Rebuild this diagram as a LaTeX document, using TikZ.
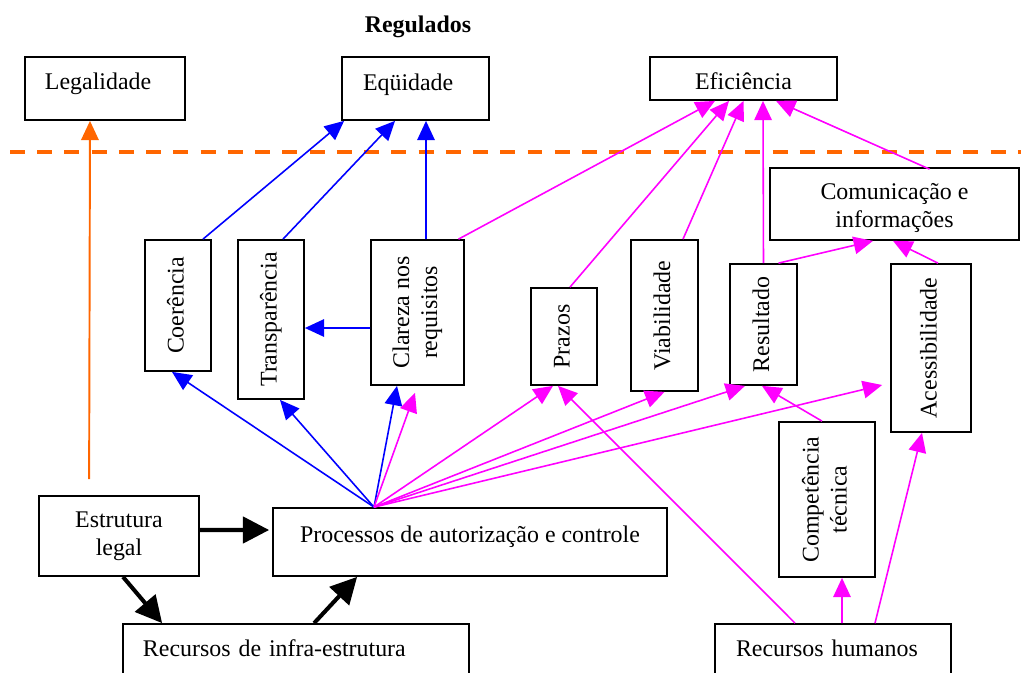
\documentclass[tikz,border=0pt]{standalone}
\usepackage{fontspec}
\setmainfont{Liberation Serif}
\usepackage{graphicx}
\usetikzlibrary{arrows.meta}
\definecolor{orng}{RGB}{255,102,0}
\definecolor{mgnt}{RGB}{255,0,255}
\definecolor{blu}{RGB}{0,0,255}
\newcommand{\vlabel}[1]{\rotatebox{90}{\begin{tabular}{@{}c@{}}#1\end{tabular}}}

\begin{document}
\begin{tikzpicture}[x=0.2cm,y=0.2cm,
  box/.style={draw, line width=1pt},
  bl/.style={draw=blu, line width=0.9pt, -{Triangle[length=11pt,width=10pt]}},
  mg/.style={draw=mgnt, line width=0.9pt, -{Triangle[length=11pt,width=10pt]}},
  og/.style={draw=orng, line width=1.1pt, -{Triangle[length=11pt,width=10pt]}},
  bk/.style={draw=black, line width=2.3pt, -{Triangle[length=15pt,width=15pt]}}]
  \tikzstyle{every node}+=[inner sep=0pt, font=\fontsize{13.6}{16}\selectfont]
  \useasboundingbox (0,0) rectangle (102.1,-67.3);
  \node[font=\fontsize{13.6}{16}\selectfont\bfseries] (reg) at (41.8,-2.7) {Regulados};
  \draw[orng, line width=2.2pt, dash pattern=on 8.5pt off 7pt] (1,-15.2) -- (102.1,-15.2);
  % top row
  \node[box, minimum width=3.2cm, minimum height=1.26cm, text width=2.4cm, align=left,
    text height=9.5pt, text depth=7.8pt] (legal) at (10.5,-8.85) {Legalidade};
  \node[box, minimum width=2.94cm, minimum height=1.26cm, text width=2.1cm, align=left,
    text height=9.5pt, text depth=6.7pt] (equi) at (41.55,-8.85) {Eqüidade};
  \node[box, minimum width=3.74cm, minimum height=0.86cm,
    text height=16pt, text depth=3pt] (efic) at (74.35,-7.85) {Eficiência};
  % middle row
  \node[box, minimum width=1.32cm, minimum height=2.62cm] (coer) at (17.8,-30.55) {\vlabel{Coerência}};
  \node[box, minimum width=1.32cm, minimum height=3.18cm] (transp) at (27.1,-31.95) {\vlabel{Transparência}};
  \node[box, minimum width=1.86cm, minimum height=2.9cm] (clar) at (41.75,-31.25) {\vlabel{Clareza nos\\requisitos}};
  \node[box, minimum width=1.32cm, minimum height=1.94cm] (prazos) at (56.4,-33.65) {\vlabel{Prazos}};
  \node[box, minimum width=1.34cm, minimum height=3.02cm] (viab) at (66.45,-31.55) {\vlabel{Viabilidade}};
  \node[box, minimum width=1.34cm, minimum height=2.42cm] (result) at (76.35,-32.45) {\vlabel{Resultado}};
  \node[box, minimum width=4.98cm, minimum height=1.44cm, align=center,
    text height=30pt, text depth=2.8pt] (comun) at (89.45,-20.4) {Comunicação e\\informações};
  \node[box, minimum width=1.6cm, minimum height=3.36cm] (acess) at (93.1,-34.8) {\vlabel{Acessibilidade}};
  \node[box, minimum width=1.92cm, minimum height=3.1cm] (compet) at (82.7,-49.95) {\vlabel{Competência\\técnica}};
  % bottom row
  \node[box, minimum width=3.2cm, minimum height=1.6cm, align=center,
    text height=25.5pt, text depth=2.8pt] (estrut) at (11.9,-53.6) {Estrutura\\legal};
  \node[box, minimum width=7.88cm, minimum height=1.36cm,
    text height=9.5pt, text depth=9.5pt] (proc) at (47,-54.2) {Processos de autorização e controle};
  \node[box, minimum width=6.92cm, minimum height=1.12cm, text width=6.12cm, align=left,
    text height=9.5pt, text depth=4.2pt] (infra) at (29.6,-65.2) {Recursos de infra-estrutura};
  \node[box, minimum width=4.72cm, minimum height=1.12cm, text width=3.88cm, align=left,
    text height=9.5pt, text depth=4.2pt] (hum) at (83.3,-65.2) {Recursos humanos};
  \coordinate (fan) at ([xshift=-1.92cm]proc.north);
  % legal structure
  \draw[og] ([xshift=1.02cm,yshift=.32cm]estrut.north west) -- ([xshift=-.3cm]legal.south);
  \draw[bk] ([yshift=.12cm]estrut.east) -- ([xshift=-.06cm,yshift=.24cm]proc.west);
  \draw[bk] ([xshift=.08cm]estrut.south) -- ([xshift=.8cm]infra.north west);
  \draw[bk] ([xshift=3.84cm]infra.north west) -- ([xshift=1.7cm]proc.south west);
  % equity
  \draw[bl] ([xshift=.5cm]coer.north) -- ([xshift=.06cm]equi.south west);
  \draw[bl] ([xshift=.24cm]transp.north) -- ([xshift=-.41cm]equi.south);
  \draw[bl] ([xshift=.17cm]clar.north) -- ([xshift=.21cm]equi.south);
  \draw[bl] ([yshift=-.31cm]clar.west) -- ([yshift=-.17cm]transp.east);
  \draw[bl] (fan) -- ([xshift=-.12cm]coer.south);
  \draw[bl] (fan) -- ([xshift=.18cm]transp.south);
  \draw[bl] (fan) -- ([xshift=-.41cm]clar.south);
  % efficiency
  \draw[mg] (fan) -- ([xshift=-.05cm,yshift=-.14cm]clar.south);
  \draw[mg] (fan) -- ([xshift=-.22cm]prazos.south);
  \draw[mg] (fan) -- (viab.south);
  \draw[mg] (fan) -- ([xshift=-.37cm]result.south);
  \draw[mg] (fan) -- ([xshift=-.16cm,yshift=-.74cm]acess.west);
  \draw[mg] ([xshift=-.76cm]hum.north) -- ([xshift=-.12cm]prazos.south);
  \draw[mg] ([xshift=-.1cm]compet.north) -- ([xshift=-.03cm]result.south);
  \draw[mg] ([xshift=.82cm]clar.north) -- ([xshift=-.57cm]efic.south);
  \draw[mg] ([xshift=.12cm]prazos.north) -- ([xshift=-.29cm]efic.south);
  \draw[mg] ([xshift=.37cm]viab.north) -- (efic.south);
  \draw[mg] (result.north) -- ([xshift=.39cm]efic.south);
  \draw[mg] ([xshift=.7cm,yshift=-.04cm]comun.north) -- ([xshift=.65cm]efic.south);
  \draw[mg] ([xshift=.3cm]result.north) -- ([xshift=-.43cm]comun.south);
  \draw[mg] ([xshift=.14cm]acess.north) -- ([xshift=-.03cm]comun.south);
  \draw[mg] ([xshift=.18cm]hum.north) -- ([xshift=.3cm]compet.south);
  \draw[mg] ([xshift=.84cm]hum.north) -- ([xshift=-.18cm]acess.south);
\end{tikzpicture}
\end{document}
